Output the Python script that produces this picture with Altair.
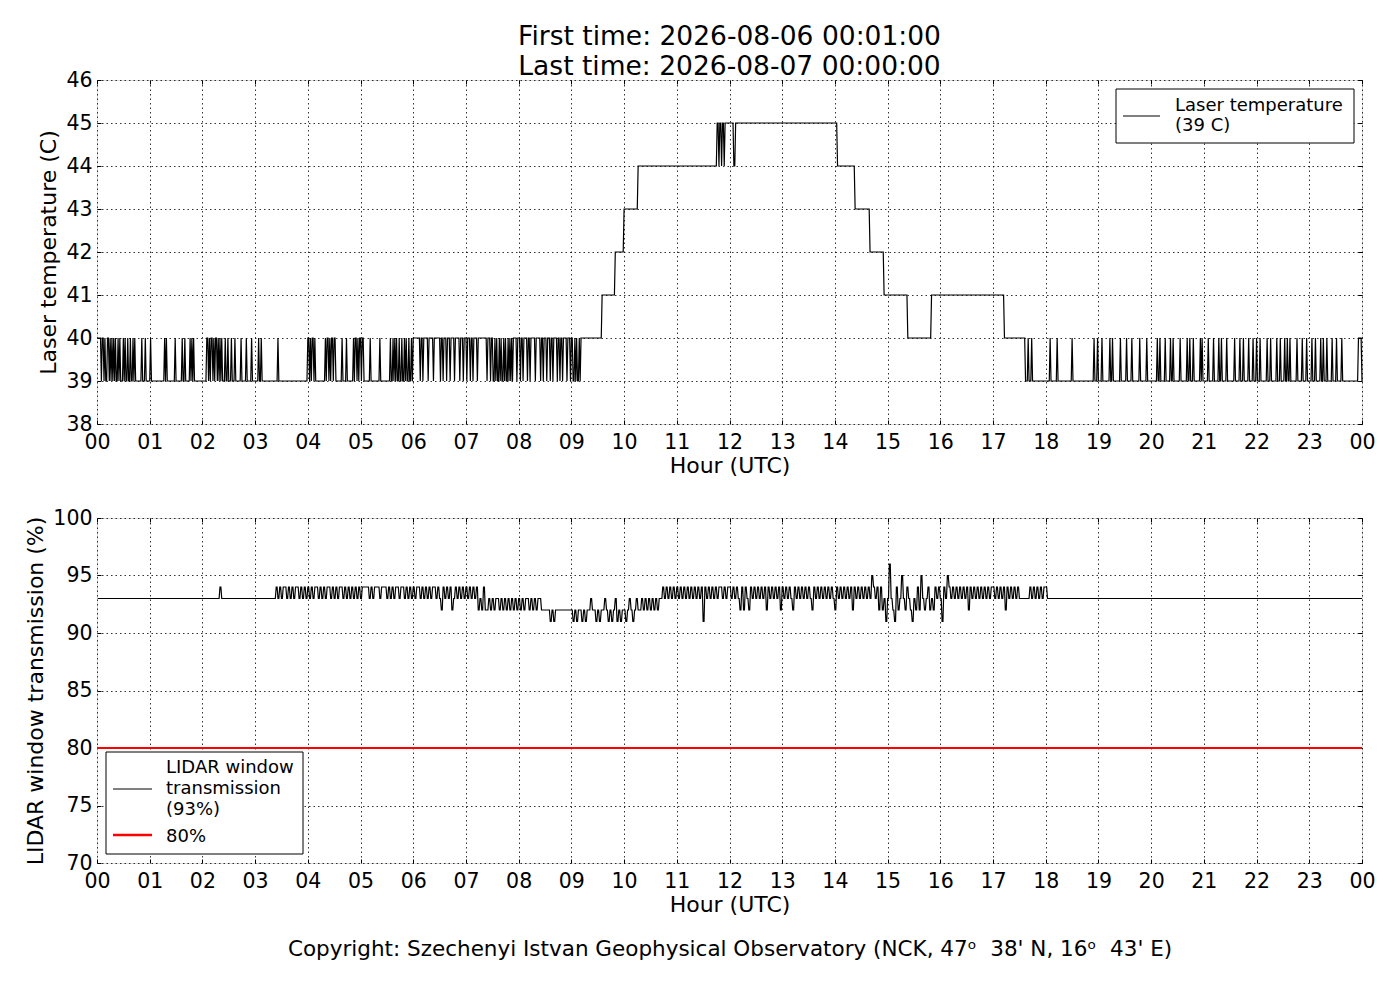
import altair as alt
import pandas as pd
import numpy as np

FONT = "DejaVu Sans"

# ---------------- data ----------------
title_lines = ["First time: 2026-08-06 00:01:00", "Last time: 2026-08-07 00:00:00"]
hour_ticks = list(range(25))
temp_ticks = [38, 39, 40, 41, 42, 43, 44, 45, 46]
trans_ticks = [70, 75, 80, 85, 90, 95, 100]

# Laser temperature plateaus: start minute of day and value
temp_seg_start = [0, 5, 360, 575, 590, 600, 616, 706, 843, 863, 880, 896, 923, 950, 1033, 1057]
temp_seg_value = [40, 39, 40, 41, 42, 43, 44, 45, 44, 43, 42, 41, 40, 41, 40, 39]
# minutes where the reading sits one degree off its plateau (39<->40, 45->44)
temp_toggle_min = [
    6, 7, 9, 12, 13, 15, 17, 19, 21, 24, 26, 30, 32, 35, 38, 41, 43, 51, 55, 61,
    77, 79, 89, 97, 100, 106, 108, 110,
    125, 126, 128, 130, 131, 133, 135, 136, 138, 140, 142, 146, 149, 153, 157, 164,
    170, 176, 184, 187, 206,
    240, 241, 243, 245, 246, 248, 260, 262, 263, 265, 267, 268, 270, 271, 279, 284,
    292, 294, 295, 297, 299, 300, 302, 303, 311, 322, 334, 337, 339, 341, 344, 347,
    350, 352, 355, 358,
    368, 371, 377, 383, 391, 394, 398, 402, 407, 413, 417, 421, 425, 428, 433, 444, 448,
    451, 452, 454, 456, 457, 459, 461, 462, 464, 466, 467, 469, 471, 473, 478, 482,
    485, 490, 493, 499, 505, 508, 512, 516, 519, 524, 527, 530, 535, 539, 542, 543,
    545, 547, 548, 550,
    708, 711, 714, 725, 726,
    1060, 1064, 1085, 1093, 1110, 1135, 1139, 1144, 1153, 1156, 1165, 1172, 1178, 1187,
    1195, 1207, 1210, 1216, 1222, 1225, 1233, 1241, 1244, 1248, 1256, 1258, 1265, 1271,
    1277, 1280, 1286, 1295, 1301, 1305, 1311, 1316, 1320, 1324, 1332, 1336, 1343, 1347,
    1352, 1355, 1358, 1366, 1372, 1377, 1383, 1387, 1393, 1396, 1400, 1406, 1411, 1417,
    1436, 1437, 1438, 1439,
]
temp_legend = "Laser temperature\n(39 C)"

# LIDAR window transmission: base value and pieces of 2-minute readings (digit = value - 90)
trans_base = 93
trans_piece_start = [140, 204, 240, 300, 360, 420, 480, 540, 600, 660, 720, 780, 840, 900, 960, 1020, 1080]
trans_piece_code = [
    "4",
    "434344343434434343",
    "434344343434434343443434343434",
    "344443434443444343434434434343",
    "434434343434434324343423434343",
    "434343423242232323323232323232",
    "32323323232332" "22221212" "22222222",
    "212122121223221212232121231212",
    "212321232232323232323343434343",
    "434343434343434143434343443434",
    "434343242432434343434243434342",
    "434343243434343432434343434343",
    "243434343424343434343543424231",
    "363214235324321324253234232434",
    "314354343434343424343434343434",
    "434343424343434333333434343434",
    "43",
]
trans_threshold = [80]
trans_legend = "LIDAR window\ntransmission\n(93%)"
thr_legend = "80%"
copyright_text = ("Copyright: Szechenyi Istvan Geophysical Observatory "
                  "(NCK, 47\u1d52\u00a0\u00a038' N, 16\u1d52\u00a0\u00a043' E)")

# ---------------- tables ----------------
minutes = np.arange(1, 1441)
plateau = np.array(temp_seg_value)[np.searchsorted(temp_seg_start, minutes, side="right") - 1]
toggled = np.isin(minutes, temp_toggle_min)
flip = {39: 40, 40: 39, 45: 44, 44: 45}
temp = np.array([flip[int(p)] if t else int(p) for p, t in zip(plateau, toggled)])

trans = np.full(minutes.shape, trans_base, dtype=float)
for start, code in zip(trans_piece_start, trans_piece_code):
    for i, ch in enumerate(code):
        m = start + 2 * i
        for mm in (m, m + 1):
            if 1 <= mm <= 1440:
                trans[mm - 1] = 90 + int(ch)

df = pd.DataFrame({"hour": minutes / 60.0, "temp": temp, "trans": trans})
thr_df = pd.DataFrame({"thr": trans_threshold})
one = pd.DataFrame({"a": [0]})

W, H1, H2 = 1265, 344, 345
LABEL_EXPR = "(datum.value % 24 < 10 ? '0' : '') + toString(datum.value % 24)"


def x_axis(orient, show):
    kw = dict(orient=orient, values=hour_ticks, labelExpr=LABEL_EXPR, labels=show,
              grid=show, gridDash=[1.5, 3], gridColor="black", gridWidth=0.8, gridOpacity=1,
              domain=False, tickSize=4, tickColor="black", tickWidth=1, offset=-4,
              labelFontSize=20.5, labelFont=FONT, labelColor="black", labelPadding=8,
              labelFlush=False, labelOverlap=False,
              titleFontSize=22, titleFont=FONT, titleFontWeight="normal", titleColor="black",
              titlePadding=3)
    kw["title"] = "Hour (UTC)" if show else None
    return alt.Axis(**kw)


def y_axis(orient, show, ticks, title):
    kw = dict(orient=orient, values=ticks, labels=show,
              grid=show, gridDash=[1.5, 3], gridColor="black", gridWidth=0.8, gridOpacity=1,
              domain=False, tickSize=4, tickColor="black", tickWidth=1, offset=-4,
              labelFontSize=20.5, labelFont=FONT, labelColor="black", labelPadding=5,
              labelFlush=False, labelOverlap=False,
              titleFontSize=22, titleFont=FONT, titleFontWeight="normal", titleColor="black",
              titlePadding=5)
    kw["title"] = title if show else None
    return alt.Axis(**kw)


xs = alt.Scale(domain=[0, 24], nice=False, zero=False)
ys1 = alt.Scale(domain=[38, 46], nice=False, zero=False)
ys2 = alt.Scale(domain=[70, 100], nice=False, zero=False)

# ---------------- top panel ----------------
t_line = alt.Chart(df).mark_line(color="black", strokeWidth=1.2).encode(
    x=alt.X("hour:Q", scale=xs, axis=x_axis("bottom", True)),
    y=alt.Y("temp:Q", scale=ys1, axis=y_axis("left", True, temp_ticks, "Laser temperature (C)")),
)
t_ghost = alt.Chart(df).mark_line(opacity=0).encode(
    x=alt.X("hour:Q", scale=xs, axis=x_axis("top", False)),
    y=alt.Y("temp:Q", scale=ys1, axis=y_axis("right", False, temp_ticks, "")),
)
t_box = alt.Chart(one).mark_rect(fill="white", stroke="black", strokeWidth=1).encode(
    x=alt.value(1019), x2=alt.value(1257), y=alt.value(9), y2=alt.value(63))
t_sample = alt.Chart(one).mark_rule(color="black", strokeWidth=1).encode(
    x=alt.value(1026), x2=alt.value(1063), y=alt.value(36))
t_text = alt.Chart(one).mark_text(align="left", baseline="middle", fontSize=18, font=FONT,
                                  lineBreak="\n", lineHeight=20, color="black").encode(
    x=alt.value(1078), y=alt.value(26), text=alt.value(temp_legend))

top = alt.layer(t_line, t_ghost, t_box, t_sample, t_text).resolve_axis(
    x="independent", y="independent"
).properties(
    width=W, height=H1,
    title=alt.TitleParams(text=title_lines, fontSize=26.5, font=FONT, fontWeight="normal",
                          anchor="middle", frame="group", lineHeight=30, offset=-10, color="black"),
)

# ---------------- bottom panel ----------------
b_line = alt.Chart(df).mark_line(color="black", strokeWidth=1.2).encode(
    x=alt.X("hour:Q", scale=xs, axis=x_axis("bottom", True)),
    y=alt.Y("trans:Q", scale=ys2, axis=y_axis("left", True, trans_ticks, "LIDAR window transmission (%)")),
)
b_ghost = alt.Chart(df).mark_line(opacity=0).encode(
    x=alt.X("hour:Q", scale=xs, axis=x_axis("top", False)),
    y=alt.Y("trans:Q", scale=ys2, axis=y_axis("right", False, trans_ticks, "")),
)
b_thr = alt.Chart(thr_df).mark_rule(color="#ff0000", strokeWidth=2).encode(
    y=alt.Y("thr:Q", scale=ys2, axis=None))
b_box = alt.Chart(one).mark_rect(fill="white", stroke="black", strokeWidth=1).encode(
    x=alt.value(9), x2=alt.value(206), y=alt.value(234), y2=alt.value(336))
b_sample1 = alt.Chart(one).mark_rule(color="black", strokeWidth=1).encode(
    x=alt.value(16), x2=alt.value(55), y=alt.value(271))
b_sample2 = alt.Chart(one).mark_rule(color="#ff0000", strokeWidth=2.5).encode(
    x=alt.value(16), x2=alt.value(55), y=alt.value(317))
b_text1 = alt.Chart(one).mark_text(align="left", baseline="middle", fontSize=18, font=FONT,
                                   lineBreak="\n", lineHeight=21, color="black").encode(
    x=alt.value(69), y=alt.value(250), text=alt.value(trans_legend))
b_text2 = alt.Chart(one).mark_text(align="left", baseline="middle", fontSize=18, font=FONT,
                                   color="black").encode(
    x=alt.value(69), y=alt.value(319), text=alt.value(thr_legend))
b_copy = alt.Chart(one).mark_text(align="center", baseline="middle", fontSize=21.5, font=FONT,
                                  color="black").encode(
    x=alt.value(633), y=alt.value(432), text=alt.value(copyright_text))

bottom = alt.layer(b_line, b_ghost, b_thr, b_box, b_sample1, b_sample2, b_text1, b_text2, b_copy
                   ).resolve_axis(x="independent", y="independent").properties(width=W, height=H2)

chart = alt.vconcat(top, bottom, spacing=30).properties(
    padding={"left": 16, "top": 15, "right": 10, "bottom": 5}
).configure_view(stroke="black", strokeWidth=1.2).configure(background="white")

chart.save("out.html", embed_options={"renderer": "svg", "actions": False})
